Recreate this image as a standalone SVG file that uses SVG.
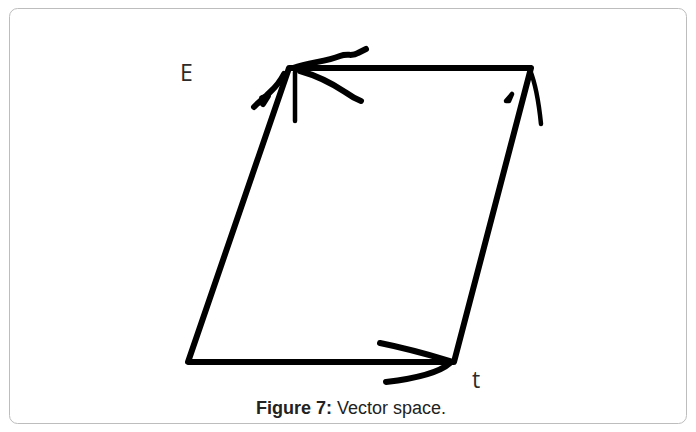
<svg xmlns="http://www.w3.org/2000/svg" width="696" height="432" viewBox="0 0 696 432">
<style>
.ln{fill:none;stroke:#000;stroke-width:6;stroke-linecap:round;stroke-linejoin:round}
.th{fill:none;stroke:#000;stroke-width:4.5;stroke-linecap:round;stroke-linejoin:round}
.lbl{font-family:"Open Sans","Liberation Sans",sans-serif;font-size:23px;fill:#2b2b2b}
.cap{font-family:"Liberation Sans",Arial,sans-serif;font-size:18px;fill:#222}
</style>
<rect x="9.5" y="8.5" width="677" height="415" rx="8" ry="8" fill="#fff" stroke="#bdbdbd" stroke-width="1"/>
<g id="parallelogram">
<path class="ln" d="M188,362 L454,362 L531,68 L289,68 Z"/>
</g>
<g id="arrows">
<path class="th" d="M295,72 L295,121"/>
<path class="ln" d="M293,68 C310,62 325,62 340,56 C348,53 352,57 358,53 L366,49"/>
<path class="ln" d="M300,71 C318,76 330,82 345,92 C352,97 356,99 361,101"/>
<path class="ln" d="M284,74 C278,86 272,90 266,96 L257,104 L254,107"/>
<path class="ln" d="M262,98 L268,96 L263,104 Z"/>
<path class="th" d="M530,70 C536,85 539,104 541,124"/>
<path class="th" d="M506,101 L512,94 L509,101 Z"/>
<path class="ln" d="M380,343 C405,348 430,355 450,361"/>
<path class="ln" d="M450,363 C440,372 420,378 386,382"/>
</g>
<text class="lbl" x="180" y="81">E</text>
<text class="lbl" x="472" y="388">t</text>
<text class="cap" x="351" y="414" text-anchor="middle"><tspan font-weight="bold">Figure 7:</tspan> Vector space.</text>
</svg>
